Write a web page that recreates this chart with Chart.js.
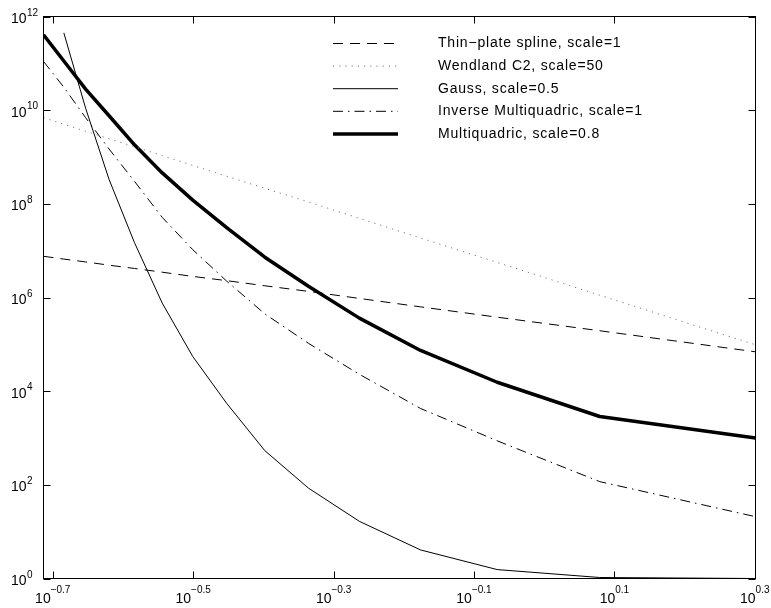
<!DOCTYPE html>
<html>
<head>
<meta charset="utf-8">
<script src="https://cdn.jsdelivr.net/npm/chart.js@4.4.1/dist/chart.umd.min.js"></script>
<style>
  html, body { margin: 0; padding: 0; background: #fff; }
  canvas { display: block; }
</style>
</head>
<body>
<canvas id="chart" width="771" height="608"></canvas>
<script>
// x = 6/(3+2k), k = 14..0
const xValues = [0.19355, 0.20690, 0.22222, 0.24, 0.26087, 0.28571, 0.31579, 0.35294, 0.4, 0.46154, 0.54545, 0.66667, 0.85714, 1.2, 2];

const thinPlate = [7.59e6, 6.61e6, 5.75e6, 4.90e6, 4.17e6, 3.47e6, 2.82e6, 2.29e6, 1.78e6, 1.35e6, 9.55e5, 6.31e5, 3.80e5, 1.95e5, 6.92e4];
const wendland = [6.92e9, 5.01e9, 3.55e9, 2.45e9, 1.66e9, 1.07e9, 6.61e8, 3.89e8, 2.14e8, 1.10e8, 4.90e7, 1.86e7, 5.62e6, 1.12e6, 9.77e4];
const gauss = [null, 4.47e11, 1.10e10, 3.31e8, 1.48e7, 7.59e5, 5.50e4, 5.50e3, 537, 85.1, 16.6, 4.07, 1.55, 1.05, 1.0];
const invMultiquadric = [1.10e11, 3.09e10, 6.92e9, 1.48e9, 3.02e8, 5.13e7, 1.05e7, 2.24e6, 4.47e5, 1.05e5, 2.29e4, 4.27e3, 871, 117, 20.9];
const multiquadric = [4.07e11, 1.12e11, 2.82e10, 7.59e9, 1.82e9, 4.57e8, 1.20e8, 3.09e7, 7.24e6, 1.74e6, 3.63e5, 7.41e4, 1.55e4, 2.88e3, 1.0e3];

const seriesLabels = [
    'Thin\u2212plate spline, scale=1',
    'Wendland C2, scale=50',
    'Gauss, scale=0.5',
    'Inverse Multiquadric, scale=1',
    'Multiquadric, scale=0.8'
];

// tick exponents (labels shown as 10^e)
const xTickExps = ['-0.7', '-0.5', '-0.3', '-0.1', '0.1', '0.3'];
const yTickExps = ['0', '2', '4', '6', '8', '10', '12'];

const FONT = '"Liberation Sans", Arial, Helvetica, sans-serif';

function toPoints(values) {
    return xValues.map((x, i) => ({ x: x, y: values[i] }));
}

function expText(e) {
    return e.replace('-', '\u2212');
}

// box, inward ticks and 10^e labels, like the matlab look
const axesPlugin = {
    id: 'boxAxes',
    afterDraw(chart) {
        const ctx = chart.ctx;
        const area = chart.chartArea;
        const xs = chart.scales.x;
        const ys = chart.scales.y;
        const tickLen = 7;

        ctx.save();
        ctx.strokeStyle = '#000';
        ctx.lineWidth = 1;
        ctx.setLineDash([]);
        ctx.strokeRect(area.left, area.top, area.right - area.left, area.bottom - area.top);

        ctx.beginPath();
        xTickExps.forEach(e => {
            const px = Math.round(xs.getPixelForValue(Math.pow(10, parseFloat(e)))) + 0.5;
            ctx.moveTo(px, area.bottom); ctx.lineTo(px, area.bottom - tickLen);
            ctx.moveTo(px, area.top); ctx.lineTo(px, area.top + tickLen);
        });
        yTickExps.forEach(e => {
            const py = Math.round(ys.getPixelForValue(Math.pow(10, parseFloat(e)))) + 0.5;
            ctx.moveTo(area.left, py); ctx.lineTo(area.left + tickLen, py);
            ctx.moveTo(area.right, py); ctx.lineTo(area.right - tickLen, py);
        });
        ctx.stroke();

        ctx.fillStyle = '#000';
        ctx.textBaseline = 'alphabetic';

        xTickExps.forEach(e => {
            const px = xs.getPixelForValue(Math.pow(10, parseFloat(e)));
            ctx.font = '14px ' + FONT;
            const wb = ctx.measureText('10').width;
            ctx.font = '10px ' + FONT;
            const we = ctx.measureText(expText(e)).width;
            const start = px - (wb + we) / 2;
            ctx.font = '14px ' + FONT;
            ctx.textAlign = 'left';
            ctx.fillText('10', start, 603);
            ctx.font = '10px ' + FONT;
            ctx.fillText(expText(e), start + wb, 593);
        });

        yTickExps.forEach(e => {
            const py = ys.getPixelForValue(Math.pow(10, parseFloat(e)));
            ctx.font = '14px ' + FONT;
            ctx.textAlign = 'right';
            ctx.fillText('10', 26.5, py + 6.5);
            ctx.font = '10px ' + FONT;
            ctx.textAlign = 'left';
            ctx.fillText(e, 27, py - 1);
        });
        ctx.restore();
    }
};

const legendPlugin = {
    id: 'lineLegend',
    afterDraw(chart) {
        const ctx = chart.ctx;
        chart.data.datasets.forEach((ds, i) => {
            const y = 43.5 + i * 22.6;
            ctx.save();
            ctx.strokeStyle = ds.borderColor;
            ctx.lineWidth = ds.borderWidth;
            ctx.setLineDash(ds.borderDash || []);
            ctx.beginPath();
            ctx.moveTo(333, y);
            ctx.lineTo(398, y);
            ctx.stroke();
            ctx.restore();
            ctx.save();
            ctx.fillStyle = '#000';
            ctx.font = '14px ' + FONT;
            ctx.letterSpacing = '0.8px';
            ctx.textAlign = 'left';
            ctx.textBaseline = 'middle';
            ctx.fillText(ds.label, 438, y);
            ctx.restore();
        });
    }
};

const ctx = document.getElementById('chart');
window.chart = new Chart(ctx, {
    type: 'line',
    data: {
        datasets: [
            { label: seriesLabels[0], data: toPoints(thinPlate), borderColor: '#000', borderWidth: 1, borderDash: [10, 7] },
            { label: seriesLabels[1], data: toPoints(wendland), borderColor: '#777', borderWidth: 1, borderDash: [1.2, 5] },
            { label: seriesLabels[2], data: toPoints(gauss), borderColor: '#000', borderWidth: 1 },
            { label: seriesLabels[3], data: toPoints(invMultiquadric), borderColor: '#000', borderWidth: 1, borderDash: [10, 5, 1.5, 5] },
            { label: seriesLabels[4], data: toPoints(multiquadric), borderColor: '#000', borderWidth: 3.5 }
        ]
    },
    options: {
        responsive: false,
        animation: false,
        layout: { padding: { left: 43.5, right: 15.5, top: 16.5, bottom: 29.5 } },
        elements: {
            point: { radius: 0, hoverRadius: 0 },
            line: { tension: 0, fill: false, borderCapStyle: 'butt', borderJoinStyle: 'round' }
        },
        datasets: { line: { clip: 0, spanGaps: false } },
        plugins: {
            legend: { display: false },
            tooltip: { enabled: false },
            title: { display: false }
        },
        scales: {
            x: {
                type: 'logarithmic',
                min: 0.19355,
                max: 2,
                grid: { display: false, drawTicks: false },
                border: { display: false },
                ticks: { display: false },
                afterFit: (s) => { s.height = 0; }
            },
            y: {
                type: 'logarithmic',
                min: 1,
                max: 1e12,
                grid: { display: false, drawTicks: false },
                border: { display: false },
                ticks: { display: false },
                afterFit: (s) => { s.width = 0; }
            }
        }
    },
    plugins: [axesPlugin, legendPlugin]
});
</script>
</body>
</html>
